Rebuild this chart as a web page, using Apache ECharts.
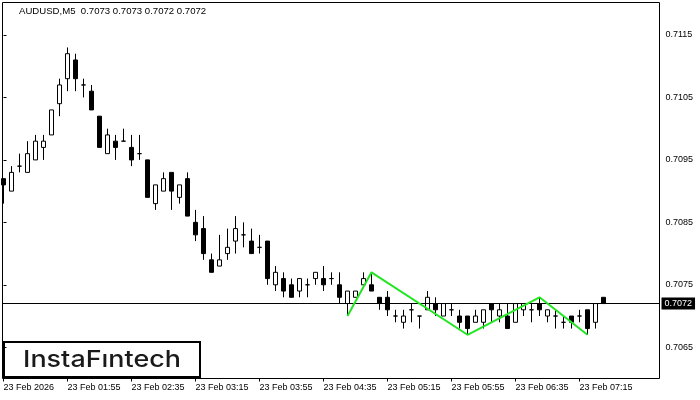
<!DOCTYPE html>
<html><head><meta charset="utf-8">
<script src="https://cdn.jsdelivr.net/npm/echarts@6/dist/echarts.min.js"></script>
<style>html,body{margin:0;padding:0;background:#fff}#c{width:700px;height:400px}</style>
</head><body><div id="c"></div>
<script>
const SYMBOL = 'AUDUSD,M5';
const OPEN  = [0.7092,0.7090,0.7094,0.7093,0.7095,0.7097,0.7099,0.7104,0.7108,0.7111,
               0.7107,0.7106,0.7102,0.7096,0.7098,0.7098,0.7097,0.7096,0.7095,0.7088,
               0.7090,0.7093,0.7089,0.7092,0.7085,0.7084,0.7079,0.7078,0.7080,0.7082,
               0.7083,0.7082,0.7081,0.7082,0.7075,0.7076,0.7075,0.7074,0.7075,0.7076,
               0.7076,0.7076,0.7075,0.7072,0.7073,0.7075,0.7075,0.7073,0.7073,0.7070,
               0.7069,0.7071,0.7070,0.7071,0.7072,0.7070,0.7071,0.7070,0.7070,0.7069,
               0.7069,0.7072,0.7070,0.7070,0.7069,0.7071,0.7071,0.7072,0.7070,0.7070,
               0.7069,0.7070,0.7070,0.7071,0.7069,0.7073];
const CLOSE = [0.7091,0.7093,0.7094,0.7096,0.7098,0.7098,0.7103,0.7107,0.7112,0.7108,
               0.7107,0.7103,0.7097,0.7099,0.7097,0.7098,0.7095,0.7096,0.7089,0.7091,
               0.7092,0.7090,0.7091,0.7086,0.7083,0.7080,0.7077,0.7079,0.7081,0.7084,
               0.7083,0.7080,0.7081,0.7076,0.7077,0.7074,0.7073,0.7076,0.7075,0.7077,
               0.7075,0.7076,0.7073,0.7074,0.7074,0.7076,0.7074,0.7072,0.7071,0.7070,
               0.7070,0.7071,0.7070,0.7073,0.7071,0.7072,0.7071,0.7069,0.7068,0.7070,
               0.7071,0.7071,0.7071,0.7068,0.7072,0.7072,0.7071,0.7071,0.7071,0.7070,
               0.7069,0.7069,0.7070,0.7068,0.7072,0.7072];
const LOW   = [0.7088,0.7090,0.7093,0.7093,0.7095,0.7095,0.7099,0.7102,0.7106,0.7106,
               0.7105,0.7103,0.7097,0.7096,0.7095,0.7098,0.7094,0.7095,0.7089,0.7087,
               0.7090,0.7087,0.7088,0.7086,0.7082,0.7079,0.7077,0.7078,0.7079,0.7080,
               0.7081,0.7080,0.7080,0.7075,0.7074,0.7073,0.7073,0.7073,0.7073,0.7075,
               0.7074,0.7075,0.7072,0.7070,0.7073,0.7075,0.7074,0.7071,0.7070,0.7069,
               0.7068,0.7069,0.7068,0.7071,0.7070,0.7070,0.7070,0.7068,0.7067,0.7069,
               0.7068,0.7069,0.7069,0.7068,0.7069,0.7070,0.7069,0.7070,0.7069,0.7068,
               0.7068,0.7068,0.7069,0.7067,0.7068,0.7072];
const HIGH  = [0.7092,0.7094,0.7096,0.7098,0.7099,0.7099,0.7103,0.7108,0.7113,0.7112,
               0.7108,0.7107,0.7102,0.7100,0.7099,0.7100,0.7099,0.7099,0.7095,0.7091,
               0.7093,0.7093,0.7091,0.7093,0.7087,0.7086,0.7080,0.7083,0.7084,0.7086,
               0.7085,0.7084,0.7083,0.7082,0.7078,0.7077,0.7076,0.7076,0.7076,0.7077,
               0.7078,0.7077,0.7077,0.7074,0.7074,0.7077,0.7077,0.7073,0.7074,0.7071,
               0.7071,0.7072,0.7070,0.7074,0.7073,0.7072,0.7072,0.7071,0.7070,0.7071,
               0.7071,0.7072,0.7072,0.7072,0.7072,0.7072,0.7072,0.7073,0.7071,0.7071,
               0.7070,0.7070,0.7071,0.7071,0.7072,0.7073];
const X_TICKS  = [0, 8, 16, 24, 32, 40, 48, 56, 64, 72];
const X_LABELS = ['23 Feb 2026','23 Feb 01:55','23 Feb 02:35','23 Feb 03:15','23 Feb 03:55',
                  '23 Feb 04:35','23 Feb 05:15','23 Feb 05:55','23 Feb 06:35','23 Feb 07:15'];
const Y_TICKS  = [0.7065, 0.7075, 0.7085, 0.7095, 0.7105, 0.7115];
const ZIGZAG_X = [43, 46, 58, 67, 73];
const ZIGZAG_Y = [0.7070, 0.7077, 0.7067, 0.7073, 0.7067];
const PRICE    = 0.7072;

const FONT = 'Liberation Sans';
const n = OPEN.length;
const candles = OPEN.map((o, i) => [i, o, CLOSE[i], LOW[i], HIGH[i]]);
const zig = ZIGZAG_X.map((x, i) => [x, ZIGZAG_Y[i]]);
const f4 = v => v.toFixed(4);
const titleText = SYMBOL + '  ' + f4(OPEN[n-1]) + ' ' + f4(HIGH[n-1]) + ' ' + f4(LOW[n-1]) + ' ' + f4(CLOSE[n-1]);

const chart = echarts.init(document.getElementById('c'), null, {renderer: 'canvas'});
chart.setOption({
  animation: false,
  backgroundColor: '#fff',
  title: {
    text: titleText, left: 19, top: 6, padding: 0,
    textStyle: {fontFamily: FONT, fontSize: 9.6, fontWeight: 'normal', color: '#000'}
  },
  grid: {
    left: 2.5, right: 40.5, top: 2.5, bottom: 21.5,
    show: true, borderColor: '#000', borderWidth: 1, backgroundColor: 'transparent',
    containLabel: false, outerBoundsMode: 'none'
  },
  xAxis: {
    type: 'value', min: -0.125, max: 82,
    axisLine: {show: false},
    splitLine: {show: false},
    axisTick: {show: true, customValues: X_TICKS, length: 3, lineStyle: {color: '#000', width: 1}},
    axisLabel: {
      show: true, customValues: X_TICKS, align: 'left', margin: 5,
      fontFamily: FONT, fontSize: 9, color: '#000',
      formatter: v => { const k = X_TICKS.indexOf(Math.round(v)); return k >= 0 ? X_LABELS[k] : ''; }
    }
  },
  yAxis: {
    type: 'value', position: 'right', min: 0.7060, max: 0.71202, scale: true,
    axisLine: {show: false},
    splitLine: {show: false},
    axisTick: {show: true, customValues: Y_TICKS, length: 3, lineStyle: {color: '#000', width: 1}},
    axisLabel: {
      show: true, customValues: Y_TICKS, margin: 6,
      fontFamily: FONT, fontSize: 9, color: '#000',
      formatter: v => f4(v)
    }
  },
  series: [
    {
      type: 'candlestick',
      data: candles,
      encode: {x: 0, y: [1, 2, 3, 4]},
      barWidth: 4,
      itemStyle: {color: '#fff', color0: '#000', borderColor: '#000', borderColor0: '#000', borderColorDoji: '#000', borderWidth: 1}
    },
    {
      type: 'line',
      data: zig,
      symbol: 'none',
      lineStyle: {color: '#22e622', width: 2},
      z: 5,
      markLine: {
        silent: true, symbol: ['none', 'none'], precision: 4,
        lineStyle: {color: '#000', width: 1, type: 'solid'},
        label: {
          show: true, position: 'end', distance: 2,
          formatter: () => f4(PRICE),
          backgroundColor: '#000', color: '#fff', padding: [2, 3, 1, 3],
          fontFamily: FONT, fontSize: 9
        },
        emphasis: {disabled: true},
        data: [{yAxis: PRICE}]
      }
    }
  ],
  graphic: [
    {
      type: 'group', left: 3, top: 341, z: 100,
      children: [
        {type: 'rect', shape: {x: 1, y: 1, width: 196, height: 35}, style: {fill: '#fff', stroke: '#000', lineWidth: 2}},
        {type: 'text', x: 99, y: 19, scaleX: 1.17, style: {text: 'Insta\u0046\u0131ntech', fontFamily: 'Inter', fontSize: 23, fontWeight: 500, fill: '#1a1a1a', align: 'center', verticalAlign: 'middle'}}
      ]
    }
  ]
});
</script>
</body></html>
